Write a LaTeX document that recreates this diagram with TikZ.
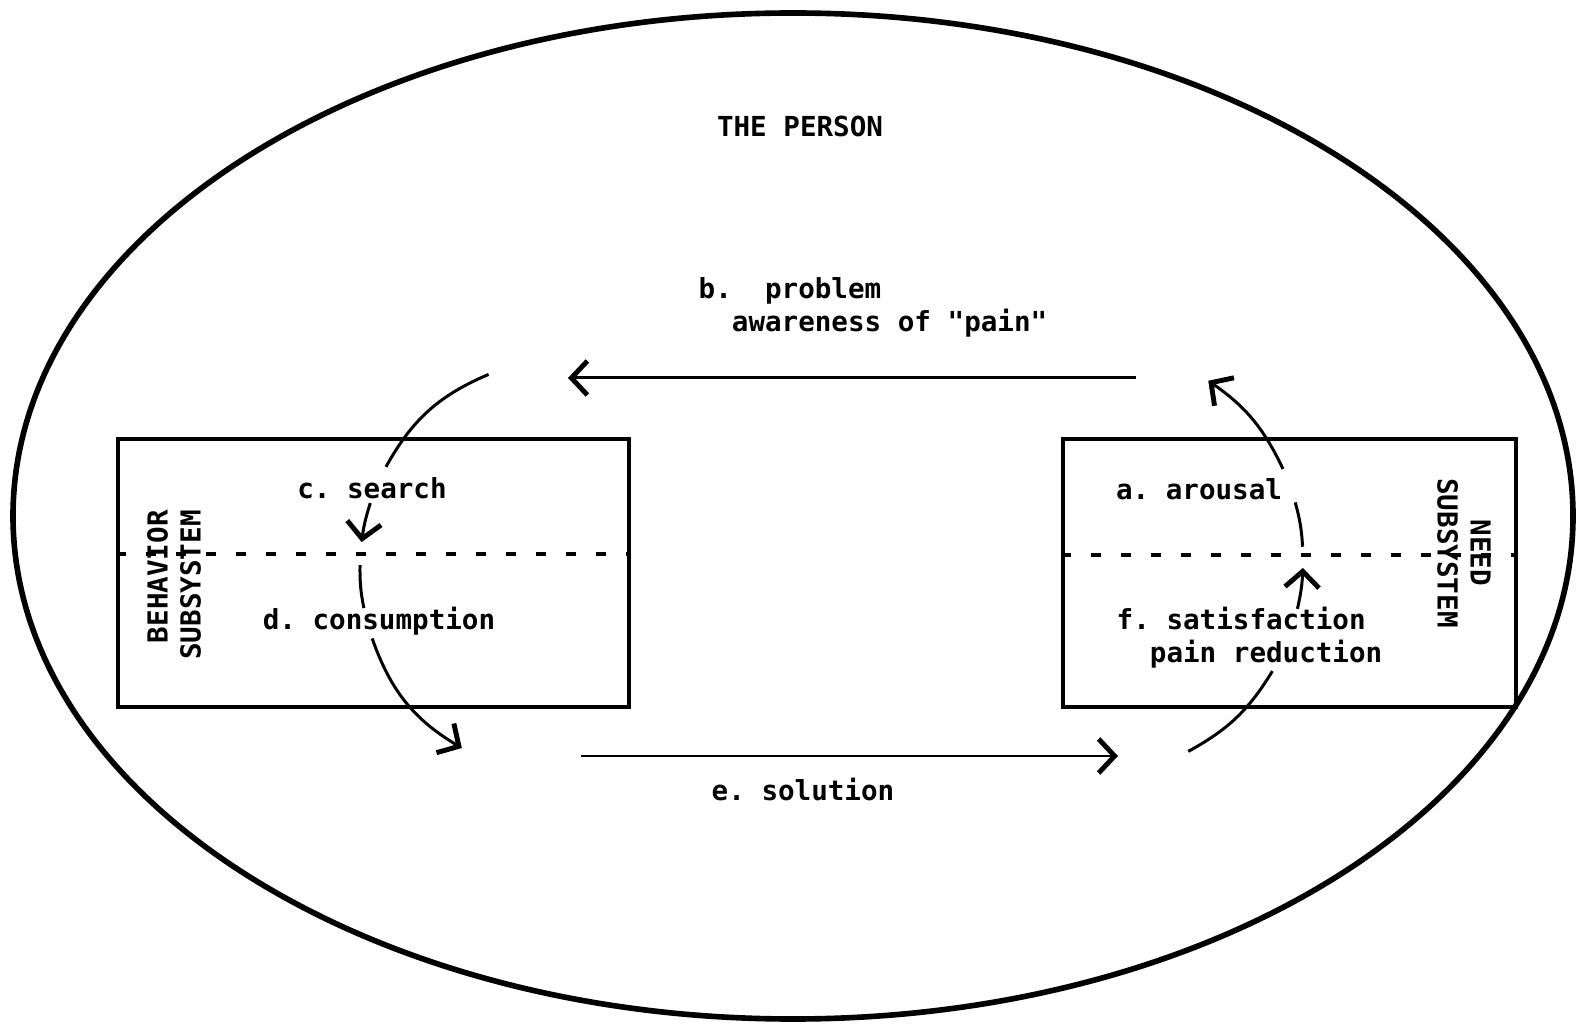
\documentclass[tikz,border=0pt]{standalone}
\usepackage{fontspec}
\newfontfamily\typed{DejaVu Sans Mono}
\frenchspacing
\usetikzlibrary{arrows.meta,calc}

\begin{document}
\begin{tikzpicture}[x=0.01cm,y=0.01cm]
    \tikzstyle{lbl}=[font=\typed\bfseries\fontsize{7.84}{9.4}\selectfont, inner sep=0pt]
    \tikzstyle{sysbox}=[draw, line width=1pt, minimum height=2.68cm]
    \tikzstyle{divider}=[line width=1pt, dash pattern=on 0.1cm off 0.2cm]
    \tikzstyle{trail}=[line width=0.85pt]
    \tikzstyle{flow}=[trail, -{Straight Barb[length=0.16cm,width=0.34cm,line width=1.4pt]}]
    \useasboundingbox (0,0) rectangle (1576,1024);

    % the person
    \draw[line width=1.6pt] (793,508) ellipse [x radius=780, y radius=503];
    \node[lbl] (person) at (800,898) {THE PERSON};

    % the two subsystems
    \node[sysbox, minimum width=5.11cm] (behavior) at (373.5,451) {};
    \node[sysbox, minimum width=4.53cm] (need) at (1289.5,451) {};
    \draw[divider] (behavior.west |- 0,470) -- (behavior.east |- 0,470);
    \draw[divider] (need.west |- 0,469) -- (need.east |- 0,469);
    \node[lbl, rotate=90, align=right] (behavlbl) at (174,439) {BEHAVIOR\\SUBSYSTEM};
    \node[lbl, rotate=-90, align=center] (needlbl) at (1464,471) {NEED\\SUBSYSTEM};

    \node[lbl] (search) at (372,536) {c. search};
    \node[lbl] (consume) at (379,403) {d. consumption};
    \node[lbl] (arousal) at (1199,535) {a. arousal};
    \node[lbl, align=left, anchor=west] (satisfy) at (1116,386) {f. satisfaction\\\phantom{xx}pain reduction};

    % between them
    \coordinate (btail) at (1136,646);
    \coordinate (bhead) at (568,646);
    \draw[flow] (btail) -- (bhead);
    \node[lbl, align=left, anchor=west] (problem) at (698,717) {b.\ \ problem\\\phantom{xx}awareness of "pain"};

    \coordinate (etail) at (581,268);
    \coordinate (ehead) at (1118,268);
    \draw[flow] (etail) -- (ehead);
    \node[lbl] (solution) at (803,235) {e. solution};

    % left loop, broken by the labels
    \coordinate (lc) at (570,456);
    \coordinate (s1) at ($(lc)+(112.8:210)$);
    \coordinate (s2) at ($(lc)+(151.2:210)$);
    \coordinate (s3) at ($(lc)+(162:210)$);
    \coordinate (s4) at ($(lc)+(172.9:210)$);
    \coordinate (s5) at ($(lc)+(179.2:210)$);
    \coordinate (s6) at ($(lc)+(191:210)$);
    \coordinate (s7) at ($(lc)+(199.6:210)$);
    \coordinate (s8) at ($(lc)+(239:210)$);
    \draw[trail] (s1) to[bend right=19] (s2);
    \draw[flow] (s3) to[bend right=5] (s4);
    \draw[trail] (s5) to[bend right=6] (s6);
    \draw[flow] (s7) to[bend right=20] (s8);

    % right loop
    \coordinate (rc) at (1086,464);
    \coordinate (n1) at ($(rc)+(-61.9:217)$);
    \coordinate (n2) at ($(rc)+(-30.8:217)$);
    \coordinate (n3) at ($(rc)+(-13:217)$);
    \coordinate (n4) at ($(rc)+(-2.1:217)$);
    \coordinate (n5) at ($(rc)+(3.5:217)$);
    \coordinate (n6) at ($(rc)+(15.4:217)$);
    \coordinate (n7) at ($(rc)+(24.8:217)$);
    \coordinate (n8) at ($(rc)+(55.7:217)$);
    \draw[trail] (n1) to[bend right=15] (n2);
    \draw[flow] (n3) to[bend right=5] (n4);
    \draw[trail] (n5) to[bend right=6] (n6);
    \draw[flow] (n7) to[bend right=15] (n8);
\end{tikzpicture}
\end{document}
